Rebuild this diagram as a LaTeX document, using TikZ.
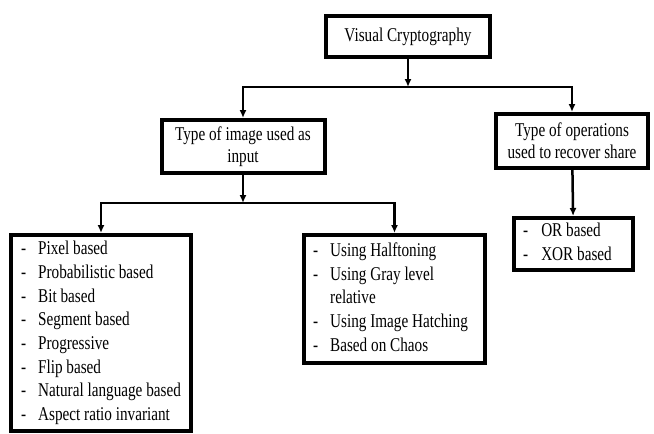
\documentclass[tikz,border=0pt]{standalone}
\usepackage{fontspec}
\setmainfont[FakeStretch=0.78]{Liberation Serif}
\usepackage{tikz}
\usetikzlibrary{positioning}
\usetikzlibrary{shapes, arrows.meta}

\begin{document}
\begin{tikzpicture}[x=1pt, y=1pt,
		box/.style={draw, line width=4pt, align=center, inner sep=0pt, font=\fontsize{19.5}{22}\selectfont},
		listbox/.style={box, align=left, font=\fontsize{19.5}{23.7}\selectfont},
		line/.style={draw, line width=2.5pt, -{Latex[length=8pt, width=7pt]}}]
			\useasboundingbox (0, 0) rectangle (654, -434);
			
			\node[box, minimum width=164pt, minimum height=41pt] at (408, -36.5) (vc) {Visual Cryptography};
			
			\node[box, minimum width=163pt, minimum height=53pt] at (243, -146.5) (imgtype) {Type of image used as\\input};
			\node[box, minimum width=152pt, minimum height=54pt] at (572, -141) (optype) {Type of operations\\used to recover share};
			
			\node[listbox, minimum width=180pt, minimum height=196pt] at (101, -333) (pixlist) {\begin{tabular}{@{}l@{\hspace{12pt}}l@{}}
					- & Pixel based\\
					- & Probabilistic based\\
					- & Bit based\\
					- & Segment based\\
					- & Progressive\\
					- & Flip based\\
					- & Natural language based\\
					- & Aspect ratio invariant
				\end{tabular}};
			\node[listbox, minimum width=181pt, minimum height=128pt] at (394.5, -299) (halflist) {\begin{tabular}{@{}l@{\hspace{12pt}}l@{}}
					- & Using Halftoning\\
					- & Using Gray level\\
					  & relative\\
					- & Using Image Hatching\\
					- & Based on Chaos
				\end{tabular}\hspace{8pt}};
			\node[listbox, minimum width=119pt, minimum height=52pt] at (573.5, -244) (oplist) {\begin{tabular}{@{}l@{\hspace{13pt}}l@{}}
					- & OR based\\
					- & XOR based
				\end{tabular}\hspace{12pt}};
			
			\coordinate (j1) at (408, -87);
			\coordinate (j2) at (243, -203);
			
			\path [line] (vc) -- (j1);
			\path [line] (j1) -| (imgtype);
			\path [line] (j1) -| (optype);
			
			\path [line] (imgtype) -- (j2);
			\path [line] (j2) -| (pixlist);
			\path [line] (j2) -| (halflist);
			
			\path [line] (optype) -- (oplist);
			
		\end{tikzpicture}
\end{document}
